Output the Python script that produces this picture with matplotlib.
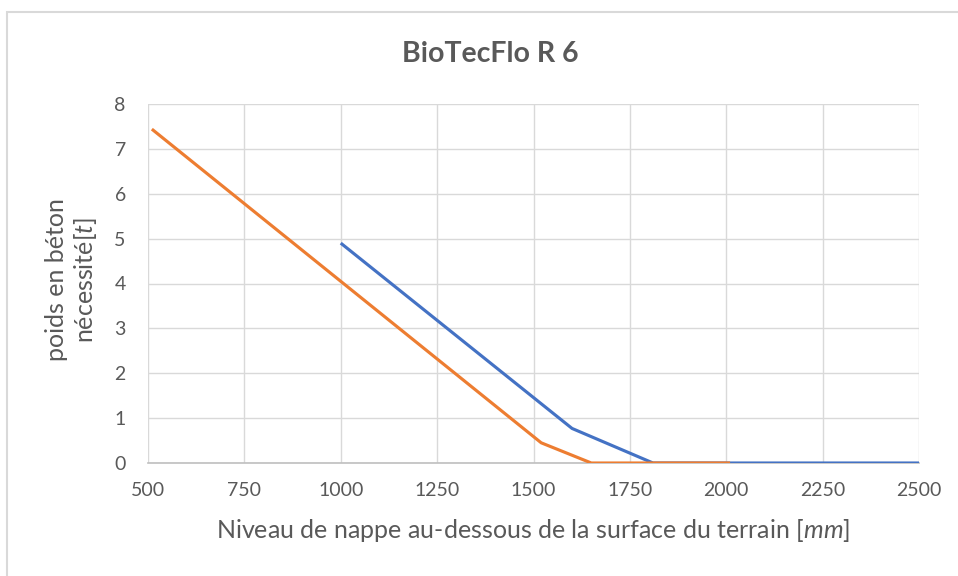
import matplotlib
matplotlib.use("Agg")
import matplotlib.pyplot as plt
import matplotlib.patches as patches

plt.rcParams['font.family'] = ['Lato', 'DejaVu Sans']
plt.rcParams['mathtext.fontset'] = 'custom'
plt.rcParams['mathtext.it'] = 'Lato:italic'
plt.rcParams['mathtext.rm'] = 'Lato'

# data
blue_x = [1000, 1600, 1810, 2500]
blue_y = [4.9, 0.77, 0.0, 0.0]
orange_x = [510, 1520, 1650, 2010]
orange_y = [7.44, 0.45, 0.0, 0.0]

x_ticks = [500, 750, 1000, 1250, 1500, 1750, 2000, 2250, 2500]
y_ticks = [0, 1, 2, 3, 4, 5, 6, 7, 8]

text_col = '#595959'
grid_col = '#D9D9D9'

W, H = 958, 576
fig = plt.figure(figsize=(W / 100, H / 100), dpi=100)
ax = fig.add_axes([148/W, 1 - 463/H, (919 - 148)/W, (463 - 104)/H])

# chart area border
fig.patches.append(patches.Rectangle((7/W, -0.05), 1.1, 1 - 12/H + 0.05,
                                     transform=fig.transFigure, fill=False,
                                     edgecolor='#D9D9D9', linewidth=1.5))

ax.plot(blue_x, blue_y, color='#4472C4', linewidth=2.25, solid_capstyle='butt', zorder=3)
ax.plot(orange_x, orange_y, color='#ED7D31', linewidth=2.25, solid_capstyle='butt', zorder=4)

ax.set_xlim(500, 2500)
ax.set_ylim(0, 8)
ax.set_xticks(x_ticks)
ax.set_yticks(y_ticks)
ax.grid(True, color=grid_col, linewidth=1.0)
ax.set_axisbelow(True)

for s in ['top', 'right', 'left']:
    ax.spines[s].set_visible(False)
ax.spines['bottom'].set_color('#BFBFBF')
ax.spines['bottom'].set_linewidth(1.2)
ax.tick_params(length=0, labelsize=14, labelcolor=text_col)
ax.tick_params(axis='x', pad=14)
ax.tick_params(axis='y', pad=16)

fig.text(490/W, 1 - 54/H, 'BioTecFlo R 6', fontsize=20.5, fontweight='bold',
         color=text_col, ha='center', va='center')
fig.text(533/W, 1 - 530/H, 'Niveau de nappe au-dessous de la surface du terrain [$mm$]',
         fontsize=18, color=text_col, ha='center', va='center')
fig.text(72/W, 1 - 280/H, 'poids en béton\nnécessité[$t$]', fontsize=18,
         color=text_col, ha='center', va='center', rotation=90,
         multialignment='center', linespacing=1.2)

fig.savefig('out.png', dpi=100)
